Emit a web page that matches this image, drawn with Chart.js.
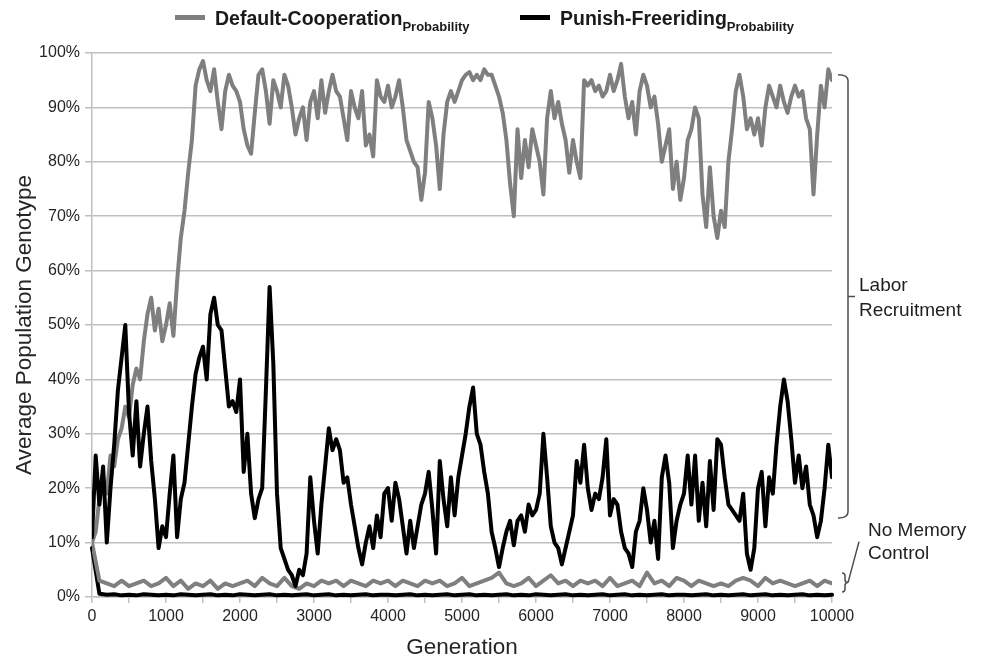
<!DOCTYPE html>
<html>
<head>
<meta charset="utf-8">
<script src="https://cdn.jsdelivr.net/npm/chart.js@4.4.1/dist/chart.umd.min.js"></script>
<style>
  html, body { margin: 0; padding: 0; background: #fff; }
  #wrap { position: relative; width: 984px; height: 661px; }
  #legend { position: absolute; left: 0; top: 0; width: 984px; height: 40px;
    font-family: "Liberation Sans Narrow", "Liberation Sans", Arial, sans-serif; font-weight: bold; color: #1a1a1a; }
  .item { position: absolute; top: 5px; font-size: 19.5px; white-space: nowrap; line-height: 26px; }
  .sw { display: inline-block; width: 30px; height: 5px; vertical-align: middle; margin-right: 10px; position: relative; top: -2px; }
  .item sub { font-size: 13px; vertical-align: -6px; }
</style>
</head>
<body>
<div id="wrap">
  <canvas id="c" width="984" height="661"></canvas>
  <div id="legend"></div>
</div>
<script>
// ---- data ----
const seriesNames = ['Default-Cooperation', 'Punish-Freeriding'];
const seriesSubscript = 'Probability';
const xTitle = 'Generation';
const yTitle = 'Average Population Genotype';
const annotationLabor = ['Labor', 'Recruitment'];
const annotationControl = ['No Memory', 'Control'];

// generations sampled every 50 (labor recruitment) and every 100 (control)
const generations = Array.from({length: 201}, (_, i) => i * 50);
const controlGenerations = Array.from({length: 101}, (_, i) => i * 100);

// Labor Recruitment: Default-Cooperation probability (%)
const coopLabor = [
  10,12,18,22,19,26,24,29,31,35,33,39,42,40,47,52,55,49,53,47,
  50,54,48,58,66,71,78,84,94,97,98.5,95,93,97,91,86,93,96,94,93,
  91,86,83,81.5,89,96,97,93,87,95,93,90,96,94,90,85,88,90,84,91,
  93,88,95,89,93,96,93,92,88,84,93,90,88,93,83,85,81,95,92,91,
  94,90,92,95,90,84,82,80,79,73,78,91,88,83,75,85,91,93,91,93,
  95,96,96.5,95,96,95,97,96,96,94,92,89,84,76,70,86,77,84,79,86,
  83,80,74,88,93,88,91,87,84,78,84,80,77,95,94,95,93,94,92,93,
  96,93,95,98,92,88,91,85,93,96,94,90,92,87,80,83,86,75,80,73,
  77,84,86,90,88,74,68,79,70,66,71,68,80,86,93,96,92,86,88,85,
  88,83,90,94,92,90,94,91,89,92,94,92,93,88,86,74,85,94,90,97,
  95
];

// Labor Recruitment: Punish-Freeriding probability (%)
const punishLabor = [
  11,26,17,24,10,20,28,38,44,50,34,26,36,24,30,35,25,18,9,13,
  11,19,26,11,18,21,28,35,41,44,46,40,52,55,50,49,42,35,36,34,
  40,23,30,19,14.5,18,20,38,57,43,19,9,7,5,4,2,5,4,8,22,
  14,8,17,24,31,27,29,27,21,22,17,13,9,6,10,13,9,15,11,19,
  20,14,21,18,13,8,14,9,13,17,19,23,16,8,25,18,13,22,15,22,
  26,30,35,38.5,30,28,23,19,12,9,5.5,9,12,14,9.5,14,15,12,17,15,
  16,19,30,22,13,10,9,6,9,12,15,25,21,28,20,16,19,18,22,29,
  15,18,17,12,9,8,5.5,12,14,20,16,10,14,7,22,26,21,9,14,17,
  19,26,17,26,14,21,13,25,16,29,28,22,17,16,15,14,19,8,5,9,
  20,23,13,22,19,28,35,40,36,29,21,26,20,24,17,15,11,14,20,28,
  22
];

// No Memory Control: Default-Cooperation probability (%)
const coopControl = [
  10,3,2.5,2,3,2,2.5,3,2,2.5,
  3.5,2,3,1.5,2.5,2,3,1.5,2.5,2,
  2.5,3,2,3.5,2.5,2,3.5,2,1.5,2.5,
  2,3,2.5,3,2,3,2.5,2,3,2.5,
  3,2,3,2.5,2,3,2.5,3,2,2.5,
  3.5,2,2.5,3,3.5,4.5,2.5,2,2.5,3.5,
  2,3,4,2.5,3,2,3,2.5,3,2,
  3.5,2,2.5,3,2,4.5,2.5,3,2,3.5,
  3,2,3,2.5,2,2.5,2,3,3.5,3,
  2,3.5,2.5,3,2.5,2,2.5,3,2,3,
  2.5
];

// No Memory Control: Punish-Freeriding probability (%)
const punishControl = [
  9,0.6,0.4,0.5,0.3,0.4,0.3,0.5,0.4,0.3,
  0.4,0.3,0.5,0.4,0.3,0.4,0.5,0.3,0.4,0.3,
  0.5,0.4,0.3,0.4,0.5,0.3,0.4,0.3,0.4,0.5,
  0.3,0.4,0.5,0.3,0.4,0.3,0.4,0.5,0.3,0.4,
  0.4,0.3,0.4,0.5,0.3,0.4,0.3,0.4,0.5,0.3,
  0.4,0.5,0.3,0.4,0.3,0.4,0.5,0.3,0.4,0.3,
  0.5,0.4,0.3,0.4,0.5,0.3,0.4,0.3,0.4,0.5,
  0.3,0.4,0.5,0.3,0.4,0.3,0.4,0.5,0.3,0.4,
  0.4,0.3,0.4,0.5,0.3,0.4,0.3,0.4,0.5,0.3,
  0.4,0.5,0.3,0.4,0.3,0.4,0.5,0.3,0.4,0.3,
  0.4
];

// bracket value ranges (percent)
const laborRange = [14.5, 96];
const controlRange = [0.9, 4.4];

// ---- styles ----
const GRAY = '#7f7f7f';
const BLACK = '#000000';
const FONT = '"Liberation Sans", Arial, sans-serif';

// legend (HTML, with subscripts)
const legendColors = [GRAY, BLACK];
const legendLefts = [175, 520];
const legend = document.getElementById('legend');
seriesNames.forEach((name, i) => {
  const d = document.createElement('div');
  d.className = 'item';
  d.style.left = legendLefts[i] + 'px';
  d.innerHTML = '<span class="sw" style="background:' + legendColors[i] + '"></span>' +
    name + '<sub>' + seriesSubscript + '</sub>';
  legend.appendChild(d);
});

const toXY = (xs, ys) => ys.map((v, i) => ({x: xs[i], y: v}));

const bracketPlugin = {
  id: 'brackets',
  afterDraw(chart) {
    const {ctx, chartArea, scales: {y}} = chart;
    ctx.save();
    ctx.strokeStyle = '#4d4d4d';
    ctx.lineWidth = 1.5;
    // Labor bracket
    const xb = chartArea.right + 16;
    const yT = y.getPixelForValue(laborRange[1]);
    const yB = y.getPixelForValue(laborRange[0]);
    const ym = (yT + yB) / 2;
    ctx.beginPath();
    ctx.moveTo(xb - 10, yT);
    ctx.quadraticCurveTo(xb, yT, xb, yT + 6);
    ctx.lineTo(xb, yB - 6);
    ctx.quadraticCurveTo(xb, yB, xb - 10, yB);
    ctx.moveTo(xb, ym);
    ctx.lineTo(xb + 7, ym);
    ctx.stroke();
    ctx.fillStyle = '#1f1f1f';
    ctx.font = '19px ' + FONT;
    ctx.textBaseline = 'middle';
    ctx.textAlign = 'left';
    ctx.fillText(annotationLabor[0], xb + 11, ym - 11);
    ctx.fillText(annotationLabor[1], xb + 11, ym + 14);
    // Control brace
    const xc = chartArea.right + 10;
    const cT = y.getPixelForValue(controlRange[1]);
    const cB = y.getPixelForValue(controlRange[0]);
    const cm = (cT + cB) / 2;
    ctx.beginPath();
    ctx.moveTo(xc, cT);
    ctx.quadraticCurveTo(xc + 3, cT, xc + 3, cT + 3);
    ctx.lineTo(xc + 3, cm - 3);
    ctx.quadraticCurveTo(xc + 3, cm, xc + 6, cm);
    ctx.quadraticCurveTo(xc + 3, cm, xc + 3, cm + 3);
    ctx.lineTo(xc + 3, cB - 3);
    ctx.quadraticCurveTo(xc + 3, cB, xc, cB);
    ctx.moveTo(xc + 6, cm);
    ctx.lineTo(xc + 17, cm - 41);
    ctx.stroke();
    ctx.fillText(annotationControl[0], xc + 26, cm - 52);
    ctx.fillText(annotationControl[1], xc + 26, cm - 29);
    ctx.restore();
  }
};

new Chart(document.getElementById('c'), {
  type: 'line',
  data: {
    datasets: [
      { label: seriesNames[1] + ' (labor)', data: toXY(generations, punishLabor), borderColor: BLACK, borderWidth: 4, order: 0 },
      { label: seriesNames[0] + ' (labor)', data: toXY(generations, coopLabor), borderColor: GRAY, borderWidth: 4, order: 1 },
      { label: seriesNames[0] + ' (control)', data: toXY(controlGenerations, coopControl), borderColor: GRAY, borderWidth: 4, order: 2 },
      { label: seriesNames[1] + ' (control)', data: toXY(controlGenerations, punishControl), borderColor: BLACK, borderWidth: 4, order: 3, clip: 6 }
    ]
  },
  options: {
    responsive: false,
    animation: false,
    devicePixelRatio: 1,
    elements: { point: { radius: 0 }, line: { tension: 0, borderJoinStyle: 'round', borderCapStyle: 'round' } },
    layout: { padding: { top: 53, right: 152, left: 0, bottom: 0 } },
    plugins: { legend: { display: false }, tooltip: { enabled: false } },
    scales: {
      x: {
        type: 'linear', min: 0, max: 10000,
        afterFit: s => { s.height = 64; },
        border: { color: '#bfbfbf', width: 1.5 },
        grid: { drawOnChartArea: false, drawTicks: true, tickLength: 6, color: '#bfbfbf', lineWidth: 1.5 },
        ticks: { stepSize: 500, autoSkip: false, maxRotation: 0, padding: 4, color: '#262626',
          font: { family: FONT, size: 16 },
          callback: v => (v % 1000 === 0 ? String(v) : '') },
        title: { display: true, text: xTitle, color: '#262626', font: { family: FONT, size: 22.5 }, padding: { top: 0, bottom: 0 } }
      },
      y: {
        min: 0, max: 100,
        afterFit: s => { s.width = 92; },
        border: { color: '#bfbfbf', width: 1.5 },
        grid: { color: '#bfbfbf', lineWidth: 1.5, tickLength: 7 },
        ticks: { stepSize: 10, padding: 5, color: '#262626', font: { family: FONT, size: 16 },
          callback: v => v + '%' },
        title: { display: true, text: yTitle, color: '#262626', font: { family: FONT, size: 22.5 }, padding: { top: 11, bottom: 0 } }
      }
    }
  },
  plugins: [bracketPlugin]
});
</script>
</body>
</html>
